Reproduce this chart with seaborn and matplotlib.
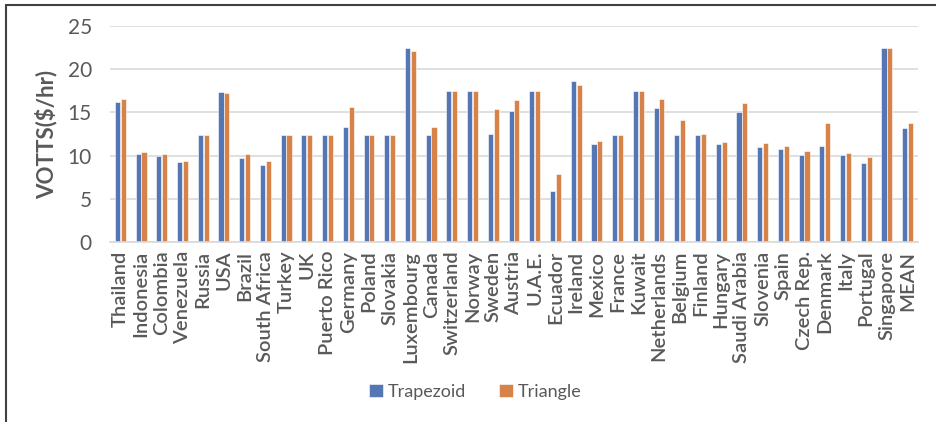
import pandas as pd
import matplotlib.pyplot as plt
import seaborn as sns
from matplotlib.lines import Line2D

sns.set_style("white")
plt.rcParams['font.family'] = ['Lato', 'DejaVu Sans']

countries = ["Thailand", "Indonesia", "Colombia", "Venezuela", "Russia", "USA", "Brazil",
             "South Africa", "Turkey", "UK", "Puerto Rico", "Germany", "Poland", "Slovakia",
             "Luxembourg", "Canada", "Switzerland", "Norway", "Sweden", "Austria", "U.A.E.",
             "Ecuador", "Ireland", "Mexico", "France", "Kuwait", "Netherlands", "Belgium",
             "Finland", "Hungary", "Saudi Arabia", "Slovenia", "Spain", "Czech Rep.",
             "Denmark", "Italy", "Portugal", "Singapore", "MEAN"]

trapezoid = [16.15, 10.15, 9.96, 9.27, 12.4, 17.35, 9.73, 8.92, 12.4, 12.4, 12.4, 13.27,
             12.4, 12.4, 22.4, 12.4, 17.46, 17.46, 12.5, 15.15, 17.46, 5.88, 18.6, 11.38,
             12.4, 17.46, 15.54, 12.4, 12.4, 11.3, 15.1, 10.96, 10.8, 10.12, 11.08, 10.08,
             9.19, 22.38, 13.19]

triangle = [16.6, 10.4, 10.15, 9.38, 12.4, 17.27, 10.2, 9.35, 12.4, 12.4, 12.4, 15.6,
            12.4, 12.4, 22.08, 13.35, 17.46, 17.46, 15.35, 16.4, 17.46, 7.88, 18.15, 11.65,
            12.4, 17.46, 16.58, 14.08, 12.54, 11.54, 16.08, 11.42, 11.08, 10.54, 13.73, 10.27,
            9.88, 22.38, 13.73]

series = ["Trapezoid", "Triangle"]
colors = ["#4472C4", "#ED7D31"]

df = pd.DataFrame({
    "Country": countries * 2,
    "VOTTS": trapezoid + triangle,
    "Method": [series[0]] * len(countries) + [series[1]] * len(countries),
})

grey = "#595959"

fig = plt.figure(figsize=(9.36, 4.22), dpi=100)
ax = fig.add_axes([0.1175, 0.4258, 0.8633, 0.5132])

sns.barplot(data=df, x="Country", y="VOTTS", hue="Method", palette=colors,
            width=0.56, gap=0.12, edgecolor="white", linewidth=0.4, ax=ax)

ax.set_ylim(0, 25)
ax.set_xlim(-0.5, len(countries) - 0.5)
ax.set_yticks([0, 5, 10, 15, 20, 25])
ax.yaxis.grid(True, color="#D9D9D9", linewidth=1.2)
ax.set_axisbelow(True)
for s in ["top", "right", "left"]:
    ax.spines[s].set_visible(False)
ax.spines["bottom"].set_color("#D9D9D9")
ax.spines["bottom"].set_linewidth(1.2)

ax.tick_params(axis="y", length=0, pad=13, labelsize=15, labelcolor=grey)
ax.tick_params(axis="x", length=0, pad=6, labelsize=14.5, labelcolor=grey)
plt.setp(ax.get_xticklabels(), rotation=90, fontweight="semibold")

ax.set_xlabel("")
ax.set_ylabel("VOTTS($/hr)", fontsize=16, fontweight="bold", color=grey, labelpad=7)

ax.legend(loc="center", bbox_to_anchor=(0.508, 0.071), bbox_transform=fig.transFigure,
          ncol=2, frameon=False, fontsize=13, labelcolor=grey,
          handlelength=0.75, handleheight=0.75, handletextpad=0.3, columnspacing=1.8)

# outer chart frame (top and left edges)
fig.add_artist(Line2D([6 / 936, 1], [1 - 5 / 422, 1 - 5 / 422], transform=fig.transFigure,
                      color="#404040", linewidth=1.5))
fig.add_artist(Line2D([6 / 936, 6 / 936], [0, 1 - 5 / 422], transform=fig.transFigure,
                      color="#404040", linewidth=1.5))

fig.savefig("out.png", dpi=100)
